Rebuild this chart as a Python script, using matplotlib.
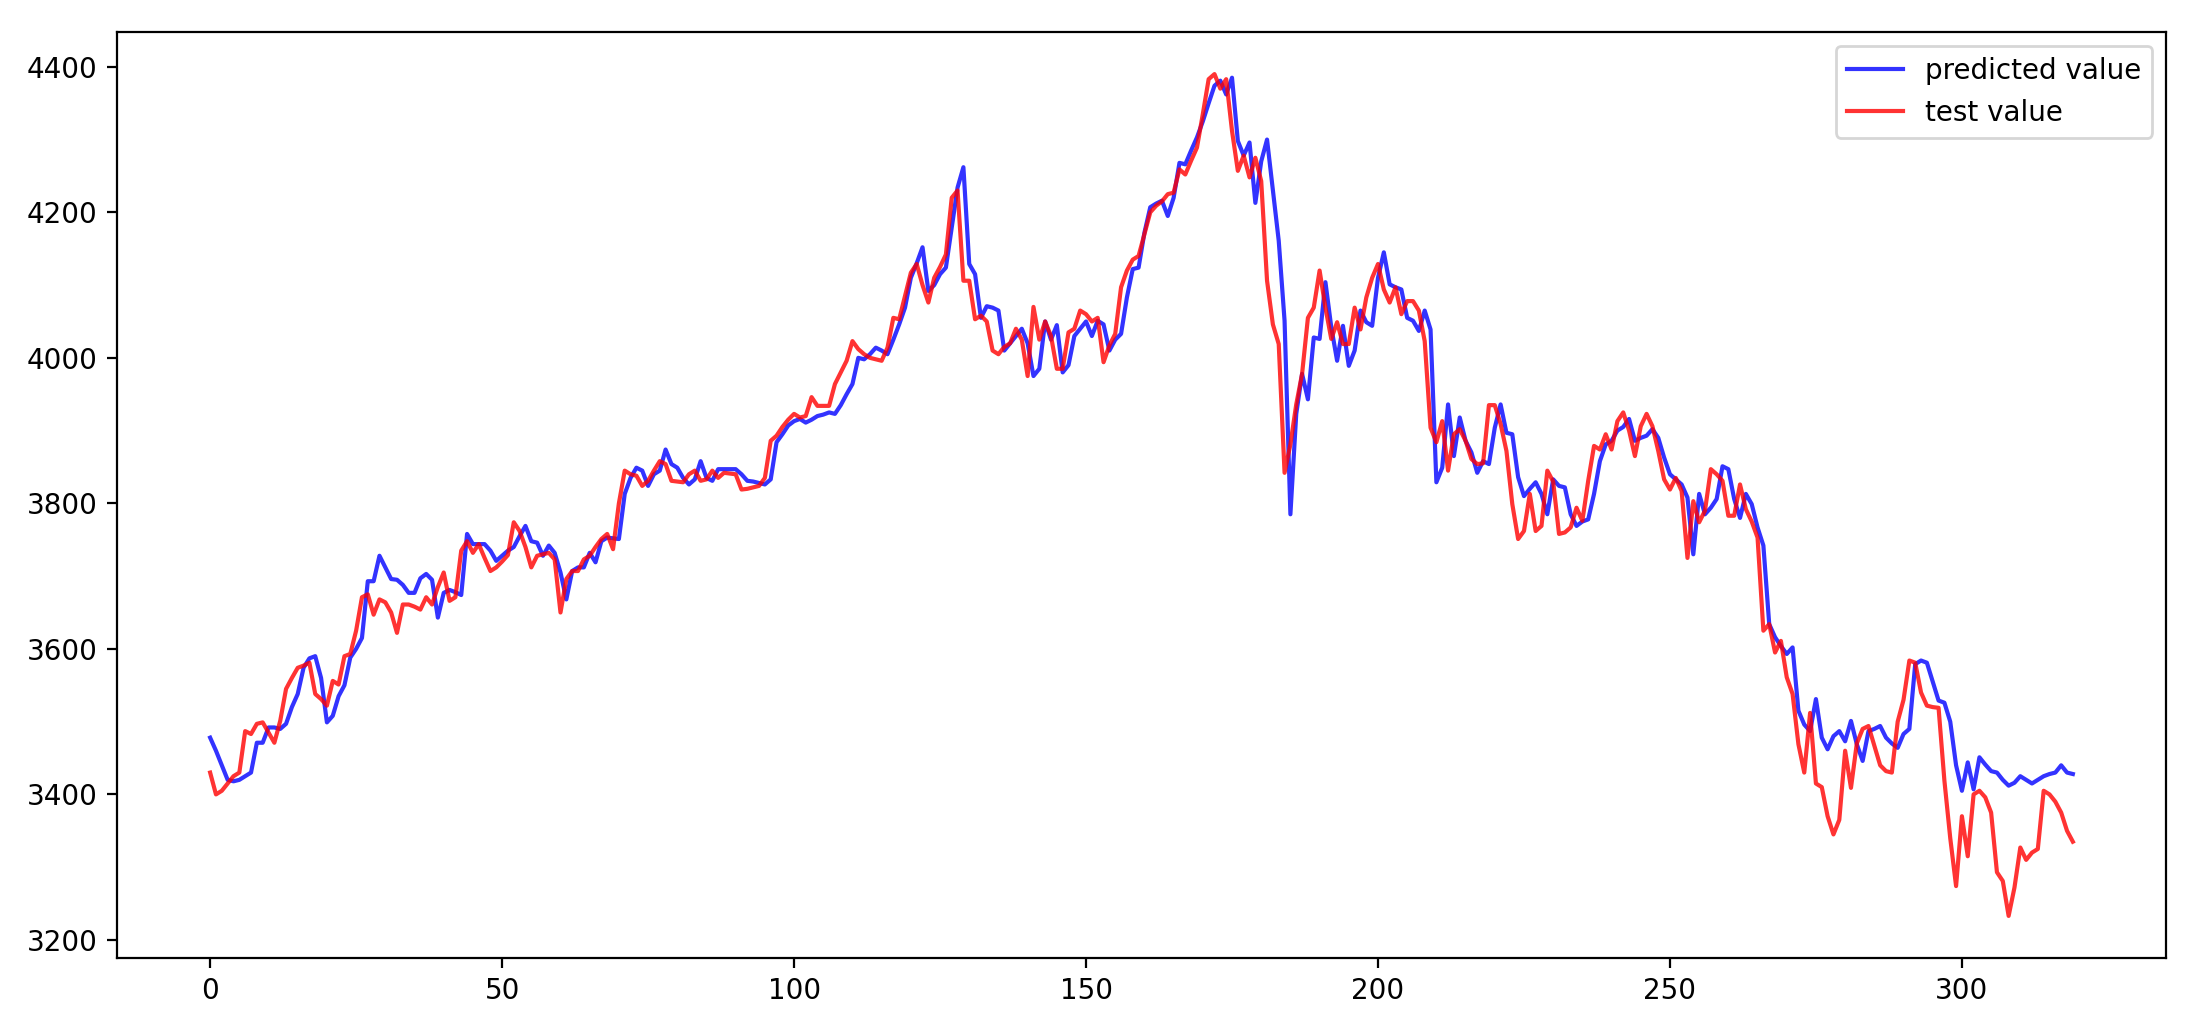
import matplotlib
matplotlib.use("Agg")
import matplotlib.pyplot as plt
import numpy as np

test_value = [
    3430, 3400, 3405, 3415, 3425, 3430, 3487, 3483, 3497, 3499,
    3485, 3471, 3501, 3545, 3560, 3574, 3577, 3581, 3538, 3531,
    3522, 3556, 3551, 3590, 3593, 3625, 3671, 3675, 3647, 3668,
    3664, 3650, 3622, 3661, 3661, 3658, 3654, 3671, 3661, 3685,
    3705, 3666, 3671, 3735, 3748, 3732, 3744, 3725, 3707, 3712,
    3720, 3729, 3774, 3762, 3740, 3712, 3728, 3730, 3732, 3723,
    3650, 3696, 3707, 3707, 3723, 3728, 3740, 3751, 3758, 3737,
    3800, 3845, 3840, 3838, 3824, 3831, 3845, 3858, 3854, 3831,
    3830, 3829, 3840, 3845, 3831, 3833, 3845, 3835, 3842, 3841,
    3840, 3819, 3820, 3822, 3824, 3835, 3886, 3893, 3905, 3915,
    3923, 3918, 3920, 3946, 3934, 3934, 3934, 3964, 3980, 3996,
    4023, 4012, 4005, 4000, 3998, 3996, 4014, 4055, 4053, 4085,
    4117, 4129, 4100, 4076, 4110, 4125, 4142, 4220, 4230, 4106,
    4106, 4053, 4058, 4050, 4010, 4005, 4015, 4020, 4040, 4025,
    3975, 4070, 4025, 4050, 4030, 3985, 3985, 4035, 4040, 4065,
    4060, 4050, 4055, 3994, 4017, 4033, 4097, 4120, 4135, 4140,
    4170, 4200, 4209, 4215, 4225, 4227, 4259, 4252, 4271, 4289,
    4335, 4383, 4390, 4370, 4383, 4312, 4257, 4278, 4248, 4275,
    4243, 4106, 4046, 4019, 3842, 3881, 3936, 3978, 4055, 4069,
    4120, 4069, 4026, 4049, 4019, 4019, 4069, 4039, 4083, 4110,
    4129, 4094, 4076, 4097, 4060, 4078, 4078, 4065, 4023, 3904,
    3884, 3913, 3845, 3895, 3902, 3886, 3861, 3854, 3855, 3935,
    3935, 3909, 3872, 3799, 3751, 3762, 3813, 3762, 3769, 3845,
    3830, 3758, 3760, 3767, 3794, 3776, 3831, 3879, 3874, 3895,
    3874, 3913, 3925, 3900, 3865, 3906, 3923, 3906, 3872, 3833,
    3819, 3835, 3817, 3725, 3803, 3774, 3790, 3847, 3840, 3831,
    3783, 3783, 3826, 3792, 3775, 3753, 3625, 3634, 3595, 3611,
    3561, 3538, 3469, 3430, 3512, 3415, 3410, 3370, 3345, 3365,
    3460, 3409, 3470, 3490, 3494, 3467, 3440, 3432, 3430, 3500,
    3530, 3584, 3581, 3540, 3522, 3520, 3519, 3419, 3340, 3274,
    3370, 3315, 3400, 3405, 3396, 3375, 3293, 3281, 3233, 3272,
    3327, 3310, 3320, 3325, 3405, 3400, 3390, 3375, 3350, 3335,
]

predicted_value = [
    3478, 3460, 3440, 3420, 3418, 3420, 3425, 3430, 3471, 3471,
    3492, 3492, 3490, 3497, 3520, 3538, 3574, 3587, 3590, 3560,
    3499, 3508, 3535, 3550, 3588, 3600, 3615, 3693, 3693, 3728,
    3712, 3696, 3695, 3688, 3677, 3677, 3697, 3703, 3695, 3643,
    3677, 3681, 3678, 3674, 3758, 3744, 3744, 3744, 3735, 3721,
    3728, 3735, 3740, 3755, 3769, 3748, 3746, 3728, 3742, 3732,
    3705, 3668, 3707, 3712, 3712, 3732, 3719, 3748, 3753, 3752,
    3751, 3813, 3835, 3849, 3845, 3824, 3840, 3845, 3874, 3854,
    3849, 3835, 3826, 3833, 3858, 3835, 3831, 3847, 3847, 3847,
    3847, 3840, 3831, 3830, 3828, 3826, 3833, 3884, 3895, 3907,
    3913, 3916, 3911, 3915, 3920, 3922, 3925, 3923, 3935, 3950,
    3964, 4000, 3998, 4005, 4014, 4010, 4005, 4025, 4046, 4069,
    4110, 4130, 4152, 4092, 4100, 4115, 4124, 4179, 4234, 4262,
    4129, 4115, 4055, 4071, 4069, 4065, 4010, 4020, 4030, 4040,
    4020, 3975, 3985, 4050, 4025, 4045, 3980, 3990, 4030, 4040,
    4050, 4030, 4051, 4046, 4010, 4025, 4033, 4083, 4122, 4124,
    4172, 4207, 4212, 4216, 4195, 4220, 4268, 4266, 4285, 4303,
    4325, 4350, 4374, 4381, 4362, 4385, 4298, 4278, 4296, 4213,
    4270, 4300, 4230, 4161, 4051, 3785, 3923, 3978, 3943, 4028,
    4026, 4104, 4042, 3996, 4044, 3989, 4010, 4065, 4049, 4044,
    4110, 4145, 4101, 4097, 4094, 4055, 4051, 4037, 4065, 4039,
    3829, 3849, 3936, 3865, 3918, 3886, 3870, 3842, 3858, 3854,
    3904, 3936, 3897, 3895, 3836, 3810, 3820, 3829, 3813, 3785,
    3833, 3824, 3822, 3785, 3769, 3775, 3778, 3813, 3858, 3881,
    3886, 3900, 3905, 3916, 3886, 3890, 3893, 3902, 3890, 3863,
    3840, 3833, 3826, 3808, 3730, 3813, 3785, 3794, 3806, 3851,
    3847, 3806, 3780, 3813, 3799, 3767, 3742, 3634, 3616, 3604,
    3593, 3602, 3515, 3496, 3487, 3531, 3478, 3462, 3480, 3487,
    3473, 3501, 3469, 3446, 3487, 3490, 3494, 3478, 3470, 3464,
    3483, 3490, 3579, 3584, 3581, 3555, 3529, 3526, 3500, 3440,
    3405, 3444, 3407, 3451, 3441, 3432, 3430, 3420, 3412, 3416,
    3425, 3420, 3415, 3420, 3425, 3428, 3430, 3440, 3430, 3428,
]

series_labels = ["predicted value", "test value"]

W, H = 2194, 1018
dpi = 200
fig = plt.figure(figsize=(W / dpi, H / dpi), dpi=dpi)
left, right, top, bottom = 117, 2166, 32, 958
ax = fig.add_axes([left / W, 1 - bottom / H, (right - left) / W, (bottom - top) / H])

x_pred = np.arange(len(predicted_value))
x_test = np.arange(len(test_value))
ax.plot(x_pred, predicted_value, color="b", alpha=0.8, label=series_labels[0])
ax.plot(x_test, test_value, color="r", alpha=0.8, label=series_labels[1])
ax.set_yticks([3200, 3400, 3600, 3800, 4000, 4200, 4400])
ax.legend(loc="upper right")

fig.savefig("out.png", dpi=dpi)
